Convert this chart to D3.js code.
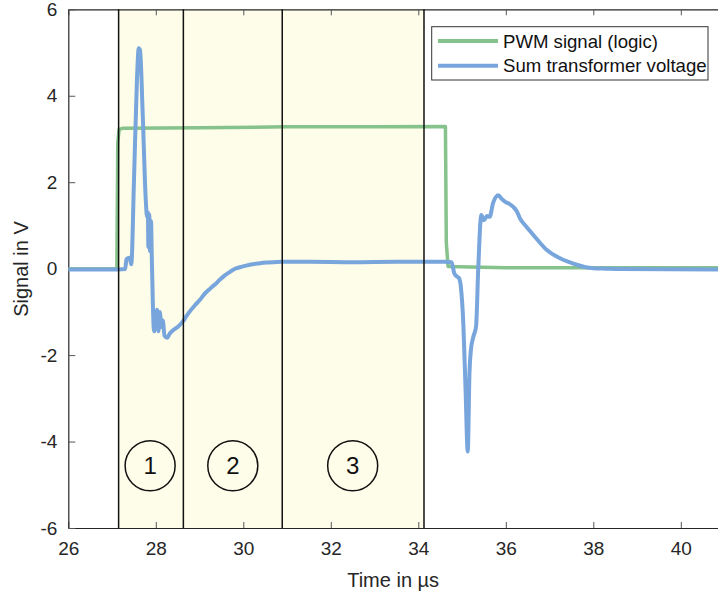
<!DOCTYPE html>
<html>
<head>
<meta charset="utf-8">
<script src="https://cdn.jsdelivr.net/npm/d3@7"></script>
<style>
	body { margin: 0; background: #fff; }
	svg { display: block; font-family: Arial, 'Liberation Sans', sans-serif; }
</style>
</head>
<body>
<svg id="chart" width="718" height="597"></svg>
<script>
// PWM signal (logic)
const pwmTime = [26, 27.11, 27.13, 27.16, 27.25, 29, 31, 33, 34.62, 34.64, 34.68, 36, 40.85];
const pwmVolt = [0, 0, 2.9, 3.22, 3.25, 3.26, 3.28, 3.28, 3.29, 0.6, 0.05, 0.02, 0.02];

// Sum transformer voltage
const sumTime = [
	26, 27.14, 27.3, 27.33, 27.4, 27.44, 27.5, 27.57, 27.61, 27.64, 27.7, 27.77,
	27.8, 27.82, 27.83, 27.85, 27.87, 27.89, 27.91, 27.96, 28, 28.03, 28.06, 28.09,
	28.13, 28.16, 28.2, 28.26, 28.32, 28.4, 28.5, 28.62, 28.7, 28.8, 28.9, 29.01,
	29.1, 29.2, 29.3, 29.39, 29.48, 29.57, 29.67, 29.76, 29.85, 29.95, 30.15, 30.35,
	30.53, 30.7, 30.9, 31.5, 32.5, 33.5, 34.6, 34.76, 34.82,
	34.88, 34.93, 34.97, 35.03, 35.08, 35.13, 35.17, 35.2, 35.26, 35.32, 35.37, 35.44,
	35.5, 35.57, 35.63, 35.71, 35.83, 35.9, 35.98, 36.08, 36.17, 36.25, 36.32, 36.47,
	36.63, 36.78, 36.94, 37.08, 37.24, 37.42, 37.62, 37.8, 38, 38.3, 38.6, 40.85
];
const sumVolt = [
	-0.02, -0.02, -0.01, 0.22, 0.25, 0.1, 2.0, 4.4, 5.1, 5.05, 3.6, 1.6,
	1.2, 1.3, 0.5, 1.25, 0.4, 1.1, 0.2, -1.45, -1.2, -0.95, -1.45, -1.0,
	-1.35, -1.2, -1.55, -1.6, -1.5, -1.42, -1.35, -1.22, -1.1, -0.96, -0.84, -0.72,
	-0.6, -0.5, -0.41, -0.33, -0.24, -0.16, -0.09, -0.03, 0.01, 0.04, 0.09, 0.12,
	0.14, 0.15, 0.16, 0.16, 0.15, 0.16, 0.16, 0.15, -0.1,
	-0.18, -0.22, -0.4, -1.3, -2.8, -4.23, -2.4, -1.9, -1.57, -1.34, 0, 1.24,
	1.12, 1.22, 1.2, 1.52, 1.7, 1.62, 1.55, 1.5, 1.43, 1.33, 1.17, 0.97,
	0.78, 0.6, 0.43, 0.33, 0.24, 0.16, 0.09, 0.04, 0.01, 0, -0.01, -0.02
];

// phase boundaries and labels
const phaseEdges = [27.15, 28.63, 30.89, 34.13];
const phaseLabels = ['1', '2', '3'];
const phaseLabelX = [27.87, 29.76, 32.5];
const phaseLabelY = -4.56;

const xTicks = [26, 28, 30, 32, 34, 36, 38, 40];
const yTicks = [-6, -4, -2, 0, 2, 4, 6];

const seriesNames = ['PWM signal (logic)', 'Sum transformer voltage'];
const seriesColors = ['#86c28b', '#77a5dc'];

const $svg = d3.select('#chart');
const plot = { left: 68.3, right: 718, top: 9.3, bottom: 528 };

const x = d3.scaleLinear().domain([26, 40.85]).range([plot.left, plot.right]);
const y = d3.scaleLinear().domain([-6, 6]).range([plot.bottom, plot.top]);

$svg.append('clipPath')
	.attr('id', 'plot-clip')
	.append('rect')
	.attr('x', plot.left)
	.attr('y', plot.top)
	.attr('width', plot.right - plot.left)
	.attr('height', plot.bottom - plot.top);

// shaded window
$svg.append('rect')
	.attr('x', x(phaseEdges[0]))
	.attr('y', plot.top)
	.attr('width', x(phaseEdges[phaseEdges.length - 1]) - x(phaseEdges[0]))
	.attr('height', plot.bottom - plot.top)
	.attr('fill', '#fefde9');

// axes (ticks inside, like matlab), plain hyphen for negatives
const plain = d => String(d);
const tickColor = '#555';
const $xAxis = $svg.append('g')
	.attr('transform', `translate(0,${plot.bottom})`)
	.call(d3.axisBottom(x).tickValues(xTicks).tickFormat(plain).tickSizeInner(-6).tickSizeOuter(0).tickPadding(14));
const $xTop = $svg.append('g')
	.attr('transform', `translate(0,${plot.top})`)
	.call(d3.axisTop(x).tickValues(xTicks).tickSizeInner(-6).tickSizeOuter(0).tickFormat(''));
const $yAxis = $svg.append('g')
	.attr('transform', `translate(${plot.left},0)`)
	.call(d3.axisLeft(y).tickValues(yTicks).tickFormat(plain).tickSizeInner(-7).tickSizeOuter(0).tickPadding(17));

[$xAxis, $xTop, $yAxis].forEach($a => {
	$a.select('.domain').attr('stroke', '#262626').attr('stroke-width', 1.2);
	$a.selectAll('.tick line').attr('stroke', tickColor).attr('stroke-width', 1);
	$a.selectAll('.tick text')
		.attr('fill', '#262626')
		.style('font-size', '19px')
		.style('font-family', 'Arial, "Liberation Sans", sans-serif');
});
$xAxis.selectAll('.tick text').attr('dy', '0.71em');
$yAxis.selectAll('.tick text').attr('dx', '6px');

// traces
const line = d3.line()
	.x(d => x(d[0]))
	.y(d => y(d[1]));

const pwmData = pwmTime.map((t, i) => [t, pwmVolt[i]]);
const sumData = sumTime.map((t, i) => [t, sumVolt[i]]);

const $traces = $svg.append('g').attr('clip-path', 'url(#plot-clip)');
$traces.append('path')
	.datum(pwmData)
	.attr('d', line)
	.attr('fill', 'none')
	.attr('stroke', seriesColors[0])
	.attr('stroke-width', 3.5)
	.attr('stroke-linejoin', 'round');
$traces.append('path')
	.datum(sumData)
	.attr('d', line.curve(d3.curveMonotoneX))
	.attr('fill', 'none')
	.attr('stroke', seriesColors[1])
	.attr('stroke-width', 4)
	.attr('stroke-linejoin', 'round');

// phase boundaries
$svg.selectAll('.edge')
	.data(phaseEdges)
	.enter()
	.append('line')
	.attr('class', 'edge')
	.attr('x1', d => x(d))
	.attr('x2', d => x(d))
	.attr('y1', plot.top)
	.attr('y2', plot.bottom)
	.attr('stroke', '#111')
	.attr('stroke-width', 1.5);

// numbered circles
const $marks = $svg.selectAll('.phase')
	.data(phaseLabels)
	.enter()
	.append('g')
	.attr('class', 'phase')
	.attr('transform', (d, i) => `translate(${x(phaseLabelX[i])},${y(phaseLabelY)})`);
$marks.append('circle')
	.attr('r', 25)
	.attr('fill', 'none')
	.attr('stroke', '#111')
	.attr('stroke-width', 1.5);
$marks.append('text')
	.attr('text-anchor', 'middle')
	.attr('dy', '0.36em')
	.attr('fill', '#111')
	.style('font-size', '24px')
	.text(d => d);

// axis titles
$svg.append('text')
	.attr('x', (plot.left + plot.right) / 2)
	.attr('y', 587)
	.attr('text-anchor', 'middle')
	.attr('fill', '#262626')
	.style('font-size', '20px')
	.text('Time in µs');
$svg.append('text')
	.attr('transform', 'translate(28,269) rotate(-90)')
	.attr('text-anchor', 'middle')
	.attr('fill', '#262626')
	.style('font-size', '20px')
	.text('Signal in V');

// legend
const $legend = $svg.append('g').attr('transform', 'translate(431.7,26.7)');
$legend.append('rect')
	.attr('width', 276.3)
	.attr('height', 53.3)
	.attr('fill', '#fff')
	.attr('stroke', '#333')
	.attr('stroke-width', 1);
const $item = $legend.selectAll('.item')
	.data(seriesNames)
	.enter()
	.append('g')
	.attr('class', 'item')
	.attr('transform', (d, i) => `translate(0,${14.3 + i * 24.7})`);
$item.append('line')
	.attr('x1', 6.3)
	.attr('x2', 66.3)
	.attr('stroke', (d, i) => seriesColors[i])
	.attr('stroke-width', 4);
$item.append('text')
	.attr('x', 71.3)
	.attr('dy', '0.35em')
	.attr('fill', '#111')
	.style('font-size', '18.6px')
	.text(d => d);
</script>
</body>
</html>
